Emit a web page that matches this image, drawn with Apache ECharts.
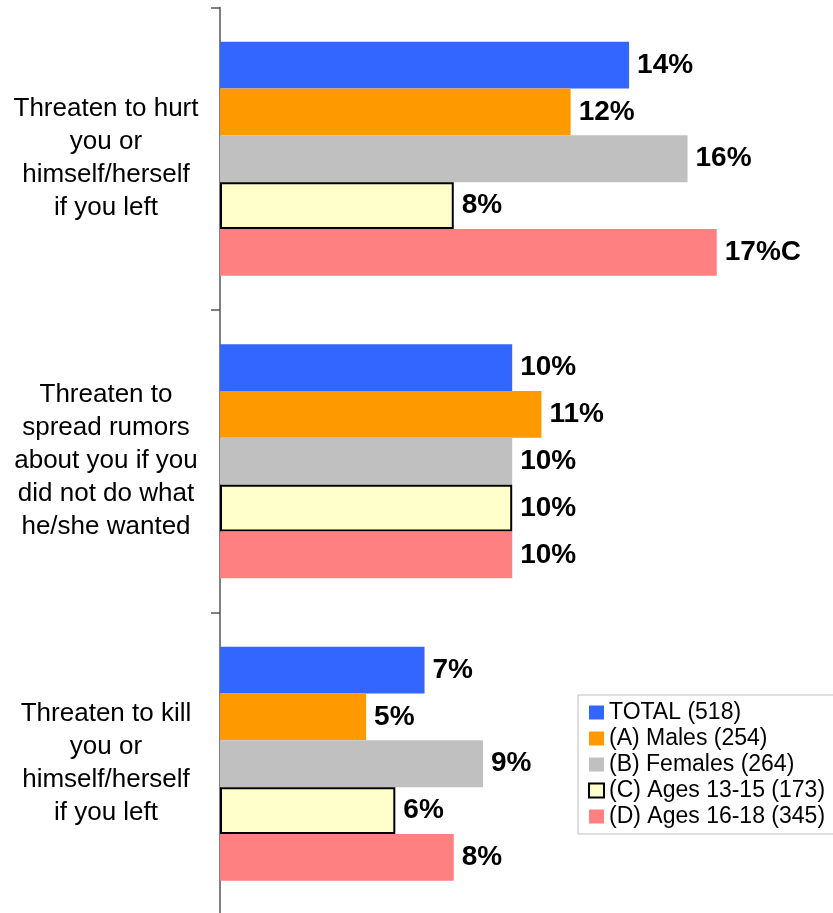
<!DOCTYPE html>
<html>
<head>
<meta charset="utf-8">
<script src="https://cdn.jsdelivr.net/npm/echarts@6/dist/echarts.min.js"></script>
<style>html,body{margin:0;padding:0;background:#fff}#c{width:833px;height:913px}</style>
</head>
<body>
<div id="c"></div>
<script>
var categories = [
  'Threaten to hurt\nyou or\nhimself/herself\nif you left',
  'Threaten to\nspread rumors\nabout you if you\ndid not do what\nhe/she wanted',
  'Threaten to kill\nyou or\nhimself/herself\nif you left'
];
var seriesNames = ['TOTAL (518)', '(A) Males (254)', '(B) Females (264)', '(C) Ages 13-15 (173)', '(D) Ages 16-18 (345)'];
var totalVals = [14, 10, 7];
var malesVals = [12, 11, 5];
var femalesVals = [16, 10, 9];
var ages1315Vals = [8, 10, 6];
var ages1618Vals = [17, 10, 8];
var sigLetters = [['', '', ''], ['', '', ''], ['', '', ''], ['', '', ''], ['C', '', '']];
var colors = ['#3366FF', '#FF9900', '#C0C0C0', '#FFFFCC', '#FF8080'];

var allVals = [totalVals, malesVals, femalesVals, ages1315Vals, ages1618Vals];
var chart = echarts.init(document.getElementById('c'));
var series = allVals.map(function (vals, i) {
  return {
    name: seriesNames[i],
    type: 'bar',
    data: vals,
    barGap: '0%',
    barCategoryGap: '22.6%',
    itemStyle: i === 3 ? { color: colors[i], borderColor: '#000', borderWidth: 2 } : { color: colors[i] },
    label: {
      show: true,
      position: 'right',
      distance: 8,
      fontFamily: 'Liberation Sans, Arial, sans-serif',
      fontWeight: 'bold',
      fontSize: 28,
      color: '#000',
      formatter: function (p) { return p.value + '%' + sigLetters[i][p.dataIndex]; }
    },
    emphasis: { disabled: true },
    animation: false
  };
});

chart.setOption({
  animation: false,
  grid: { left: 220, right: 28.6, top: 7.5, bottom: -2, outerBoundsMode: 'none', containLabel: false },
  legend: {
    orient: 'vertical',
    left: 578,
    top: 695,
    padding: [6, 12, 6, 10],
    itemGap: 3,
    itemWidth: 15,
    itemHeight: 14,
    icon: 'rect',
    borderColor: '#BFBFBF',
    borderWidth: 1,
    backgroundColor: '#fff',
    textStyle: { fontFamily: 'Liberation Sans, Arial, sans-serif', fontSize: 23, color: '#000' },
    data: seriesNames.map(function (n, i) {
      return i === 3 ? { name: n, icon: 'rect', itemStyle: { borderColor: '#000', borderWidth: 2 } } : { name: n, icon: 'rect' };
    })
  },
  xAxis: { type: 'value', min: 0, max: 20, show: false },
  yAxis: {
    type: 'category',
    data: categories,
    inverse: true,
    axisLine: { show: true, lineStyle: { color: '#555', width: 1.5 } },
    axisTick: { show: true, length: 9, lineStyle: { color: '#555', width: 1.5 } },
    axisLabel: {
      align: 'center',
      margin: 114,
      fontFamily: 'Liberation Sans, Arial, sans-serif',
      fontSize: 26,
      lineHeight: 33,
      color: '#000'
    },
    splitLine: { show: false }
  },
  series: series
});
</script>
</body>
</html>
